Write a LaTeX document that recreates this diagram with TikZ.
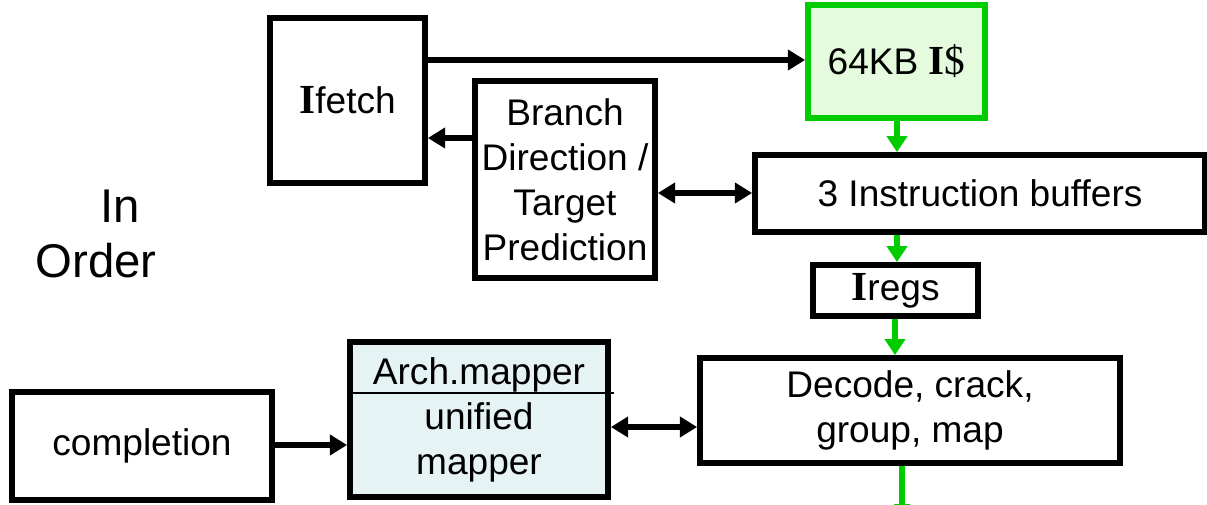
\documentclass[tikz,border=0pt]{standalone}
\usepackage{fontspec}
\setmainfont{Liberation Sans}
\newfontfamily\serifI{Liberation Serif}
\usetikzlibrary{arrows.meta}
\definecolor{lgreen}{HTML}{E4FCDD}
\definecolor{bgreen}{HTML}{00CC00}
\definecolor{lblue}{HTML}{E6F3F4}
\newcommand{\BigI}{{\serifI\bfseries\fontsize{31}{33.75}\selectfont I}}
\tikzset{
  box/.style={draw=black, line width=4.3pt, fill=white, inner sep=0pt, align=center,
    font=\fontsize{27.8}{33.75}\selectfont},
  gbox/.style={box, draw=bgreen, fill=lgreen},
  arr/.style={line width=4.3pt, -{Triangle[length=13pt,width=15pt]}},
  darr/.style={line width=4.3pt, {Triangle[length=13pt,width=15pt]}-{Triangle[length=13pt,width=15pt]}},
  garr/.style={draw=bgreen, line width=4.3pt, -{Triangle[length=12pt,width=15pt]}},
  lbl/.style={font=\fontsize{35.5}{40}\selectfont, inner sep=0pt}
}
\begin{document}
\begin{tikzpicture}[x=0.75pt,y=-0.75pt]
\useasboundingbox (0,0) rectangle (1207,505);
% nodes
\node[box, minimum width=116.25pt, minimum height=123.75pt] (ifetch) at (347.5,100.5) {\BigI fetch};
\node[gbox, minimum width=132.75pt, minimum height=84.75pt] (icache) at (896.5,61.5) {64KB {\serifI\fontsize{31}{33.75}\selectfont\textbf{I}\$}};
\node[box, minimum width=135pt, minimum height=147.75pt] (branch) at (565,179.5) {Branch\\Direction /\\Target\\Prediction};
\node[box, minimum width=337.5pt, minimum height=57.75pt] (ibuf) at (980,193.5) {3 Instruction buffers};
\node[box, minimum width=123.75pt, minimum height=38.25pt] (iregs) at (895.5,290.5) {\raisebox{-2pt}{\BigI regs}};
\node[box, minimum width=315pt, minimum height=78.75pt] (decode) at (910,410.5) {Decode, crack,\\group, map};
\node[box, fill=lblue, minimum width=193.5pt, minimum height=116.25pt] (mapper) at (479,419.5) {Arch.mapper\\unified\\mapper};
\node[box, minimum width=195pt, minimum height=81pt] (completion) at (142,446) {completion};
\node[lbl] (in) at (120,206) {In};
\node[lbl] (order) at (96,261) {Order};
% helper coordinates
\coordinate (y60) at (0,60);
\coordinate (y138) at (0,138);
\coordinate (y193) at (0,193);
\coordinate (y445) at (0,445);
\coordinate (y427) at (0,427);
\coordinate (y393) at (0,393);
\coordinate (x897) at (897,0);
\coordinate (x895) at (895,0);
\coordinate (dend) at (902,505);
% separator in mapper
\draw[line width=1.5pt] (mapper.west |- y393) -- ([xshift=2pt]mapper.east |- y393);
% connectors
\draw[arr] (ifetch.east |- y60) -- (icache.west |- y60);
\draw[arr] (branch.west |- y138) -- (ifetch.east |- y138);
\draw[darr] (branch.east |- y193) -- (ibuf.west |- y193);
\draw[garr] (icache.south -| x897) -- (ibuf.north -| x897);
\draw[garr] (ibuf.south -| x897) -- (iregs.north -| x897);
\draw[garr] (iregs.south -| x895) -- (decode.north -| x895);
\draw[draw=bgreen, line width=4.3pt] (decode.south -| dend) -- (dend);
\draw[draw=bgreen, line width=2pt] ([xshift=-6pt]dend) -- ([xshift=6pt]dend);
\draw[arr] (completion.east |- y445) -- (mapper.west |- y445);
\draw[darr] (mapper.east |- y427) -- (decode.west |- y427);
\end{tikzpicture}
\end{document}
